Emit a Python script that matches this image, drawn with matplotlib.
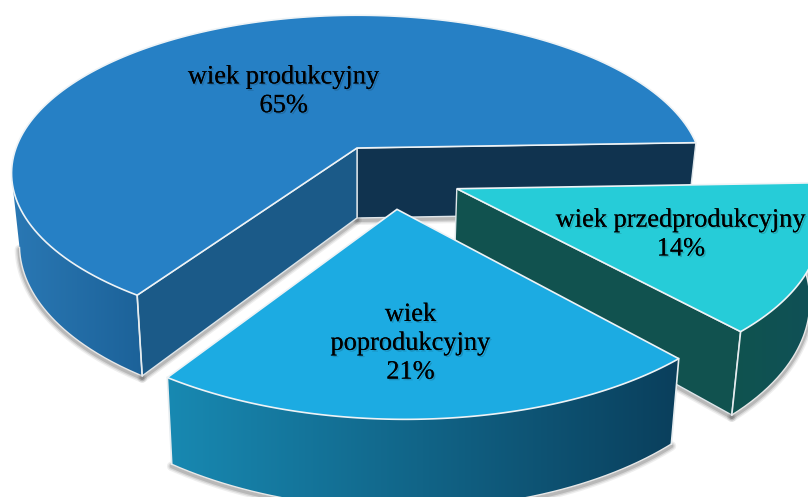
import itertools
import numpy as np
import matplotlib
matplotlib.use('Agg')
import matplotlib.pyplot as plt
import matplotlib.patheffects as pe
from matplotlib.colors import LinearSegmentedColormap
from matplotlib.patches import Polygon

categories = ['wiek produkcyjny', 'wiek\npoprodukcyjny', 'wiek przedprodukcyjny']
shares = [65, 21, 14]
top_colors = ['#2680C5', '#1CABE2', '#26CCD8']
wall_colors = [('#2A78B4', '#1C6299'), ('#1889B2', '#0A3F5C'), ('#10534F', '#0F5057')]
label_radius = [0.46, 0.75, 0.63]
label_shift = [(-2, 2), (-13, -15), (5, 3)]

# camera: pixel position of the main slice's tip and the perspective settings
cx, cy = 357, 148
rx, ry = 341, 154
k = 0.16
depth = 70
squeeze = 0.977
explode = 0.2
start_angle = 2.0

layer = itertools.count(1)


def project(x, y, low=False):
    x, y = np.asarray(x, float), np.asarray(y, float)
    f = 1 / (1 + k * y)
    sx = cx + rx * x * f
    sy = cy - ry * y * f
    if low:
        sx = cx + (sx - cx) * squeeze
        sy = sy + depth * f
    return sx, sy


def shadow(ax, sx, sy):
    for lw, a in [(7, 0.08), (5, 0.12), (3, 0.18)]:
        ax.plot(sx, sy + 2, color='#303030', lw=lw, alpha=a, solid_capstyle='round', zorder=next(layer))


def wall(ax, x, y, colors):
    # gradient strip between the top rim and the lower rim
    tx, ty = project(x, y)
    bx, by = project(x, y, low=True)
    pts = np.r_[np.c_[tx, ty], np.c_[bx, by][::-1]]
    shadow(ax, bx, by)
    cmap = LinearSegmentedColormap.from_list('w', colors)
    im = ax.imshow(np.linspace(0, 1, 256)[None, :], cmap=cmap, aspect='auto', zorder=next(layer),
                   extent=(pts[:, 0].min(), pts[:, 0].max(), pts[:, 1].max(), pts[:, 1].min()))
    im.set_clip_path(Polygon(pts, transform=ax.transData))
    ax.plot(bx, by, color='#e8e8e8', lw=1, zorder=next(layer))


def face(ax, x, y, color):
    # flat cut side running from the tip to the rim
    tx, ty = project(x, y)
    bx, by = project(x, y, low=True)
    shadow(ax, bx, by)
    ax.add_patch(Polygon(np.r_[np.c_[tx, ty], np.c_[bx, by][::-1]], closed=True,
                         facecolor=color, edgecolor='#dfe6ea', lw=1, zorder=next(layer)))


fig = plt.figure(figsize=(8.08, 4.97), dpi=100)
ax = fig.add_axes([0, 0, 1, 1])

spans = np.array(shares) / sum(shares) * 360
starts = start_angle + np.r_[0, np.cumsum(spans)[:-1]]
mids = np.radians(starts + spans / 2)
# every slice moves out along its middle; the view stays anchored on the main one
off_x = explode * (np.cos(mids) - np.cos(mids[0]))
off_y = explode * (np.sin(mids) - np.sin(mids[0]))


def rim(i, a0, a1):
    t = np.radians(np.linspace(a0, a1, 160))
    return off_x[i] + np.cos(t), off_y[i] + np.sin(t)


def edge(i, a):
    t = np.radians(a)
    return np.array([off_x[i], off_x[i] + np.cos(t)]), np.array([off_y[i], off_y[i] + np.sin(t)])


def top(ax, i):
    x, y = rim(i, starts[i], starts[i] + spans[i])
    sx, sy = project(np.r_[off_x[i], x], np.r_[off_y[i], y])
    ax.add_patch(Polygon(np.c_[sx, sy], closed=True, facecolor=top_colors[i],
                         edgecolor='#eef3f6', lw=1.2, joinstyle='miter', zorder=next(layer)))


def corner(ax, i, a):
    x, y = rim(i, a, a)
    tx, ty = project(x[:1], y[:1])
    bx, by = project(x[:1], y[:1], low=True)
    ax.plot([tx[0], bx[0]], [ty[0], by[0]], color='#e6ecef', lw=1.2, zorder=next(layer))


# main slice
end0 = starts[0] + spans[0]
x, y = rim(0, 190, end0)
wall(ax, x, y, wall_colors[0])
ex, ey = edge(0, starts[0])
face(ax, ex, ey, '#10334F')
ex, ey = edge(0, end0)
face(ax, ex, ey, '#1B5A88')
corner(ax, 0, end0)
top(ax, 0)

# przedprodukcyjny goes behind poprodukcyjny
ex, ey = edge(2, starts[2])
face(ax, ex, ey, '#11524F')
x, y = rim(2, starts[2], starts[2] + spans[2])
wall(ax, x, y, wall_colors[2])
corner(ax, 2, starts[2])
top(ax, 2)

x, y = rim(1, starts[1], starts[1] + spans[1])
wall(ax, x, y, wall_colors[1])
corner(ax, 1, starts[1])
corner(ax, 1, starts[1] + spans[1])
top(ax, 1)

for i, name in enumerate(categories):
    lx = off_x[i] + label_radius[i] * np.cos(mids[i])
    ly = off_y[i] + label_radius[i] * np.sin(mids[i])
    sx, sy = project(lx, ly)
    ax.text(sx + label_shift[i][0], sy + label_shift[i][1], f'{name}\n{shares[i]}%',
            ha='center', va='center', multialignment='center',
            fontsize=19, family='Liberation Serif', color='black', linespacing=1.4,
            zorder=next(layer),
            path_effects=[pe.withSimplePatchShadow(offset=(1.2, -1.2), shadow_rgbFace='#10202a', alpha=0.2),
                          pe.Normal()])

ax.set_xlim(0, 808)
ax.set_ylim(497, 0)
ax.axis('off')

plt.savefig('out.png', dpi=100)
